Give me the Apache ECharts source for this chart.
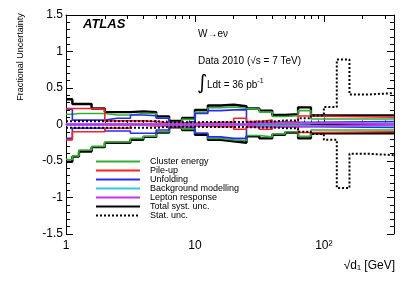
<!DOCTYPE html>
<html><head><meta charset="utf-8">
<script src="https://cdn.jsdelivr.net/npm/echarts@6/dist/echarts.min.js"></script>
<style>html,body{margin:0;padding:0;background:#fff}#c{width:415px;height:281px}</style>
</head><body><div id="c"></div>
<script>
// ---- data ----
const edges = [1, 1.12, 1.26, 1.58, 2.0, 2.5, 3.16, 3.98, 5.01, 6.31, 7.94, 10, 12.6, 15.8, 20, 25.1, 31.6, 39.8, 50.1, 63.1, 79.4, 350];
const statEdges = [1, 1.12, 1.26, 1.58, 2.0, 2.5, 3.16, 3.98, 5.01, 6.31, 7.94, 10, 12.6, 15.8, 20, 25.1, 31.6, 39.8, 50.1, 63.1, 79.4, 100, 126, 158, 216, 350];
const totalUp   = [0.345, 0.28, 0.28, 0.22, 0.17, 0.17, 0.18, 0.17, 0.11, 0.05, 0.09, 0.20, 0.26, 0.27, 0.25, 0.22, 0.19, 0.13, 0.14, 0.235, 0.125];
const totalDown = [-0.51, -0.44, -0.37, -0.31, -0.25, -0.25, -0.21, -0.17, -0.11, -0.04, -0.075, -0.14, -0.21, -0.23, -0.25, -0.16, -0.19, -0.14, -0.11, -0.19, -0.12];
const clusterUp   = [0.14, 0.15, 0.15, 0.15, 0.13, 0.13, 0.15, 0.15, 0.09, 0.03, 0.07, 0.17, 0.23, 0.24, 0.22, 0.21, 0.17, 0.11, 0.12, 0.19, 0.075];
const clusterDown = [-0.48, -0.43, -0.35, -0.30, -0.24, -0.24, -0.19, -0.16, -0.10, -0.03, -0.06, -0.12, -0.19, -0.21, -0.22, -0.15, -0.17, -0.13, -0.10, -0.16, -0.075];
const pileupUp   = [0.22, 0.22, 0.22, 0.21, 0.05, 0.05, 0.05, 0.04, 0.02, 0.02, 0.02, 0.02, 0.03, 0.03, 0.085, 0.04, 0.06, 0.03, 0.03, 0.116, 0.10];
const pileupDown = [-0.21, -0.10, -0.10, -0.10, -0.05, -0.05, -0.01, -0.02, -0.02, -0.02, -0.02, -0.02, -0.03, -0.03, -0.066, -0.03, -0.066, -0.03, -0.03, -0.11, -0.10];
const unfoldUp   = [0.21, 0.06, 0.06, 0.06, 0.085, 0.085, 0.13, 0.12, 0.085, 0.016, 0.04, 0.15, 0.19, 0.20, 0.20, 0.03, 0.03, 0.03, 0.03, 0.03, 0.04];
const unfoldDown = [-0.19, -0.05, -0.05, -0.05, -0.09, -0.09, -0.12, -0.12, -0.075, -0.03, -0.04, -0.12, -0.17, -0.19, -0.19, -0.03, -0.03, -0.03, -0.03, -0.03, -0.04];
const bkgUp   = [0.01, 0.01, 0.01, 0.01, 0.01, 0.01, 0.01, 0.01, 0.008, 0.008, 0.008, 0.01, 0.01, 0.01, 0.01, 0.012, 0.012, 0.012, 0.012, 0.015, 0.018];
const bkgDown = [-0.01, -0.01, -0.01, -0.01, -0.01, -0.01, -0.01, -0.01, -0.008, -0.008, -0.008, -0.01, -0.01, -0.01, -0.01, -0.012, -0.012, -0.012, -0.012, -0.015, -0.02];
const lepUp   = [0.005, 0.005, 0.005, 0.005, 0.005, 0.005, 0.005, 0.005, 0.005, 0.005, 0.005, 0.005, 0.005, 0.005, 0.005, 0.02, 0.02, 0.02, 0.02, 0.02, 0.005];
const lepDown = [-0.005, -0.005, -0.005, -0.005, -0.005, -0.005, -0.005, -0.005, -0.005, -0.005, -0.005, -0.005, -0.005, -0.005, -0.005, -0.025, -0.025, -0.025, -0.025, -0.025, -0.005];
const statUp   = [0.045, 0.045, 0.045, 0.045, 0.045, 0.045, 0.045, 0.045, 0.03, 0.03, 0.03, 0.035, 0.035, 0.035, 0.035, 0.04, 0.04, 0.055, 0.055, 0.085, 0.125, 0.24, 0.89, 0.41, 0.43];
const statDown = [-0.045, -0.045, -0.045, -0.045, -0.045, -0.045, -0.045, -0.045, -0.03, -0.03, -0.03, -0.035, -0.035, -0.035, -0.035, -0.04, -0.04, -0.05, -0.05, -0.10, -0.13, -0.21, -0.87, -0.40, -0.42];
const legendNames = ['Cluster energy', 'Pile-up', 'Unfolding', 'Background modelling', 'Lepton response', 'Total syst. unc.', 'Stat. unc.'];
const xMajorTicks = [1, 10, 100];
const xMinorTicks = [2, 3, 4, 5, 6, 7, 8, 9, 20, 30, 40, 50, 60, 70, 80, 90, 200, 300];
const yTickLabels = ['-1.5', '-1', '-0.5', '0', '0.5', '1', '1.5'];

// ---- build ----
function stepData(e, v) {
  const d = v.map((y, i) => [e[i], y]);
  d.push([e[v.length], v[v.length - 1]]);
  return d;
}
const FONT = '"Liberation Sans", Arial, Helvetica, sans-serif';
function mk(name, e, v, color, width, type) {
  return {
    name, type: 'line', step: 'end', data: stepData(e, v), symbol: 'none',
    xAxisIndex: 0, yAxisIndex: 0, silent: true, animation: false,
    lineStyle: { color, width, type: type || 'solid' }, itemStyle: { color, opacity: 0 },
    emphasis: { disabled: true }
  };
}
const series = [
  mk(legendNames[5], edges, totalUp, '#000', 2.4),
  mk(legendNames[5], edges, totalDown, '#000', 2.4),
  mk(legendNames[0], edges, clusterUp, '#33b033', 1.6),
  mk(legendNames[0], edges, clusterDown, '#33b033', 1.6),
  mk(legendNames[2], edges, unfoldUp, '#2a2aff', 1.6),
  mk(legendNames[2], edges, unfoldDown, '#2a2aff', 1.6),
  mk(legendNames[1], edges, pileupUp, '#ff2020', 1.6),
  mk(legendNames[1], edges, pileupDown, '#ff2020', 1.6),
  mk(legendNames[3], edges, bkgUp, '#30cccc', 1.6),
  mk(legendNames[3], edges, bkgDown, '#30cccc', 1.6),
  mk(legendNames[4], edges, lepUp, '#cc30ee', 1.6),
  mk(legendNames[4], edges, lepDown, '#cc30ee', 1.6),
  mk(legendNames[6], statEdges, statUp, '#000', 2, [2, 2]),
  mk(legendNames[6], statEdges, statDown, '#000', 2, [2, 2])
];

function xAx(pos, ticks, len, labels, line) {
  return {
    type: 'log', logBase: 10, min: 1, max: 350, position: pos,
    axisLine: { show: line, lineStyle: { color: '#000', width: 1 } },
    axisTick: { show: true, inside: true, length: len, customValues: ticks, lineStyle: { color: '#000', width: 1 } },
    axisLabel: labels ? {
      show: true, customValues: xMajorTicks, margin: 6, color: '#000', fontSize: 12, fontFamily: FONT,
      formatter: v => (Math.abs(v - 100) < 1e-6 ? '10²' : String(Math.round(v)))
    } : { show: false },
    splitLine: { show: false }, minorTick: { show: false }
  };
}
function yAx(pos, labels) {
  return {
    type: 'value', min: -1.5, max: 1.5, interval: 0.5, position: pos,
    axisLine: { show: true, lineStyle: { color: '#000', width: 1 } },
    axisTick: { show: true, inside: true, length: 7, lineStyle: { color: '#000', width: 1 } },
    minorTick: { show: true, splitNumber: 5, length: 4, lineStyle: { color: '#000', width: 1 } },
    axisLabel: labels ? {
      show: true, margin: 3, color: '#000', fontSize: 12, fontFamily: FONT,
      formatter: v => yTickLabels[Math.round((v + 1.5) / 0.5)]
    } : { show: false },
    splitLine: { show: false }
  };
}

const chart = echarts.init(document.getElementById('c'), null, { renderer: 'canvas' });
chart.setOption({
  backgroundColor: '#fff',
  animation: false,
  grid: { left: 66, right: 21, top: 15, bottom: 47, containLabel: false },
  xAxis: [
    xAx('bottom', xMajorTicks, 7, true, true),
    xAx('bottom', xMinorTicks, 4, false, false),
    xAx('top', xMajorTicks, 7, false, true),
    xAx('top', xMinorTicks, 4, false, false)
  ],
  yAxis: [yAx('left', true), yAx('right', false)],
  legend: {
    data: legendNames, orient: 'vertical', left: 95, top: 157, itemWidth: 44, itemHeight: 10, itemGap: 0,
    padding: 0, selectedMode: false,
    itemStyle: { opacity: 0 },
    textStyle: { fontSize: 9, fontFamily: FONT, color: '#000', padding: [0, 0, 0, 5] }
  },
  graphic: [
    { type: 'text', x: 83, y: 24, style: { text: 'ATLAS', font: 'italic bold 13px ' + FONT, fill: '#000', verticalAlign: 'middle' } },
    { type: 'text', x: 198, y: 34, style: { text: 'W→eν', font: '10px ' + FONT, fill: '#000', verticalAlign: 'middle' } },
    { type: 'text', x: 198, y: 61, style: { text: 'Data 2010 (√s = 7 TeV)', font: '10px ' + FONT, fill: '#000', verticalAlign: 'middle' } },
    { type: 'text', x: 197, y: 84, style: { text: '∫', font: '20px "DejaVu Sans"', fill: '#000', verticalAlign: 'middle' } },
    { type: 'text', x: 207, y: 85, style: { text: 'Ldt = 36 pb{s|-1}', font: '10px ' + FONT, fill: '#000', verticalAlign: 'middle',
      rich: { s: { fontSize: 7, fontFamily: FONT, padding: [0, 0, 8, 0] } } } },
    { type: 'text', x: 395, y: 266, style: { text: '√d₁ [GeV]', font: '12px ' + FONT, fill: '#000', align: 'right', verticalAlign: 'middle' } },
    { type: 'text', x: 21, y: 57, rotation: Math.PI / 2, style: { text: 'Fractional Uncertainty', font: '9px ' + FONT, fill: '#000', align: 'center', verticalAlign: 'middle' } }
  ],
  series
});
</script></body></html>
